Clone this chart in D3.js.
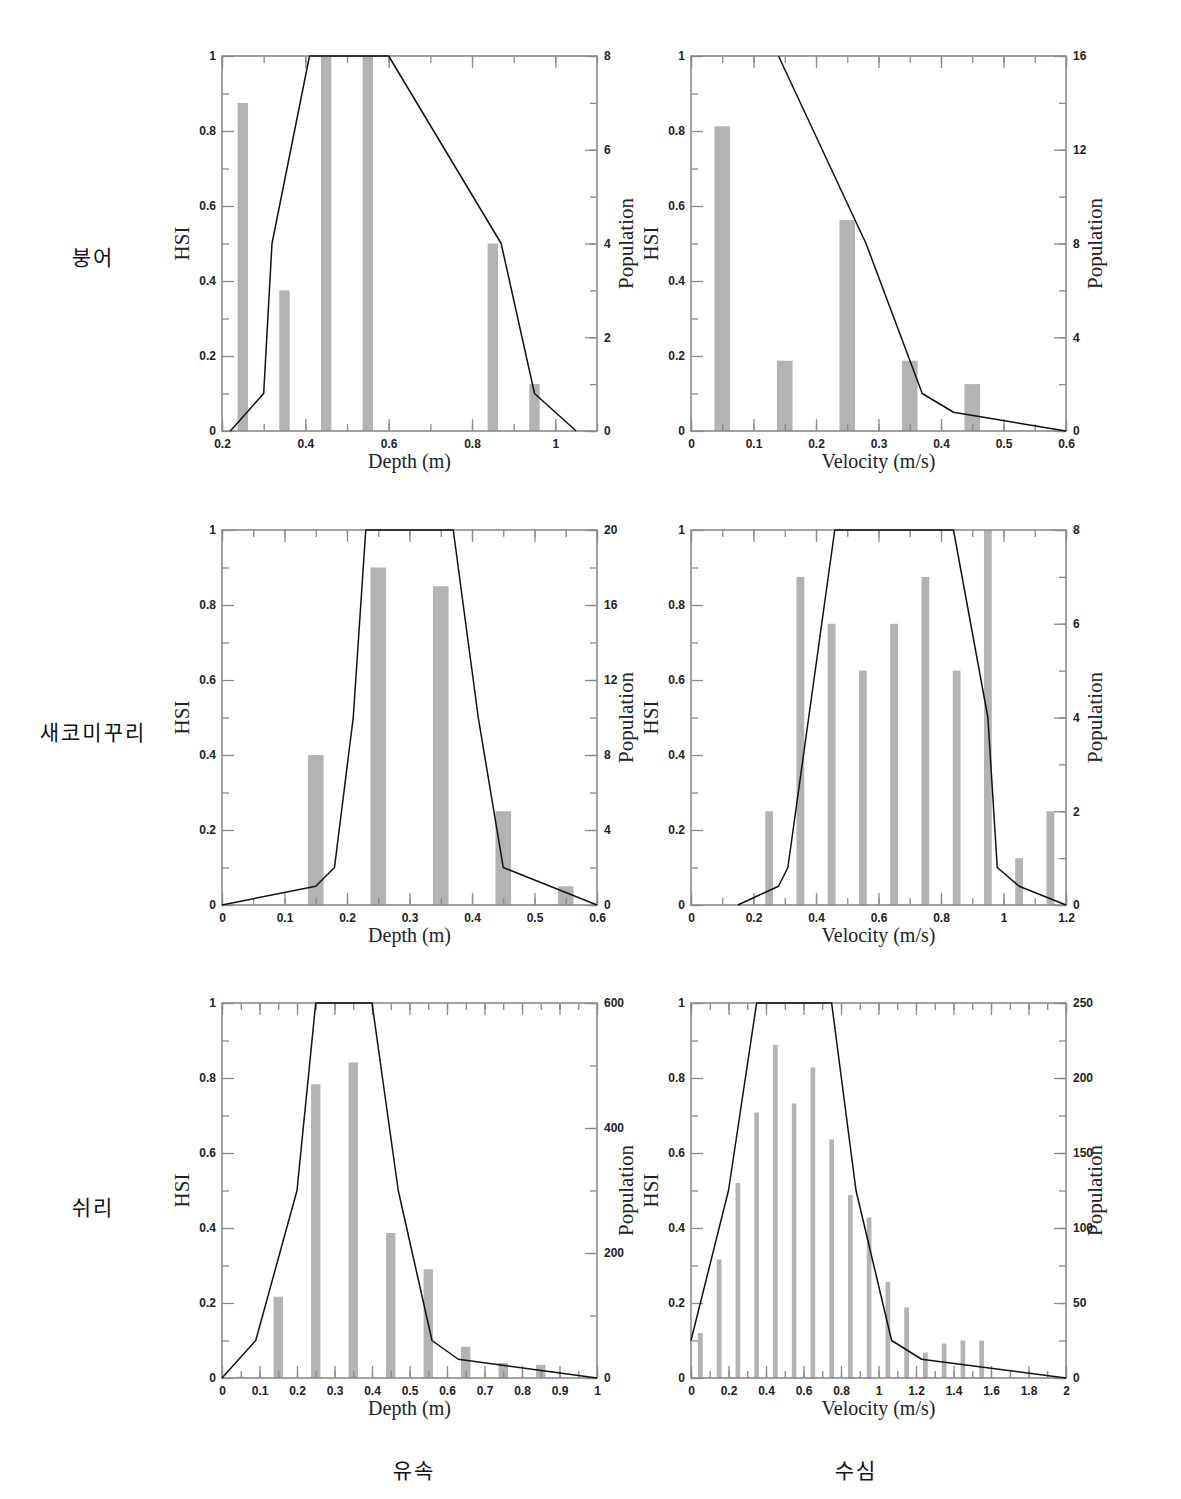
<!DOCTYPE html>
<html><head><meta charset="utf-8">
<script src="https://cdn.jsdelivr.net/npm/d3@7"></script>
<style>
body{margin:0;background:#fff;}
svg{display:block;}
</style></head>
<body>
<svg id="chart" width="1181" height="1499"></svg>
<script>
// ---------- data ----------
const rowLabels = ["붕어", "새코미꾸리", "쉬리"];
const colLabels = ["유속", "수심"];
const xTitles = ["Depth (m)", "Velocity (m/s)"];
const hsiTicks = [0, 0.2, 0.4, 0.6, 0.8, 1];
const hsiMinor = [0.1, 0.3, 0.5, 0.7, 0.9];

// 붕어 - depth
const p1BarX = [0.25, 0.35, 0.45, 0.55, 0.85, 0.95];
const p1BarPop = [7, 3, 8, 8, 4, 1];
const p1LineX = [0.22, 0.3, 0.32, 0.41, 0.6, 0.87, 0.95, 1.05];
const p1LineHSI = [0, 0.1, 0.5, 1, 1, 0.5, 0.1, 0];
const p1XTicks = [0.2, 0.4, 0.6, 0.8, 1];
const p1PopTicks = [0, 2, 4, 6, 8];

// 붕어 - velocity
const p2BarX = [0.05, 0.15, 0.25, 0.35, 0.45];
const p2BarPop = [13, 3, 9, 3, 2];
const p2LineX = [0.14, 0.28, 0.37, 0.42, 0.6];
const p2LineHSI = [1, 0.5, 0.1, 0.05, 0];
const p2XTicks = [0, 0.1, 0.2, 0.3, 0.4, 0.5, 0.6];
const p2PopTicks = [0, 4, 8, 12, 16];

// 새코미꾸리 - depth
const p3BarX = [0.15, 0.25, 0.35, 0.45, 0.55];
const p3BarPop = [8, 18, 17, 5, 1];
const p3LineX = [0, 0.15, 0.18, 0.21, 0.23, 0.37, 0.41, 0.45, 0.6];
const p3LineHSI = [0, 0.05, 0.1, 0.5, 1, 1, 0.5, 0.1, 0];
const p3XTicks = [0, 0.1, 0.2, 0.3, 0.4, 0.5, 0.6];
const p3PopTicks = [0, 4, 8, 12, 16, 20];

// 새코미꾸리 - velocity
const p4BarX = [0.25, 0.35, 0.45, 0.55, 0.65, 0.75, 0.85, 0.95, 1.05, 1.15];
const p4BarPop = [2, 7, 6, 5, 6, 7, 5, 8, 1, 2];
const p4LineX = [0.15, 0.28, 0.31, 0.46, 0.84, 0.95, 0.98, 1.05, 1.2];
const p4LineHSI = [0, 0.05, 0.1, 1, 1, 0.5, 0.1, 0.05, 0];
const p4XTicks = [0, 0.2, 0.4, 0.6, 0.8, 1, 1.2];
const p4PopTicks = [0, 2, 4, 6, 8];

// 쉬리 - depth
const p5BarX = [0.05, 0.15, 0.25, 0.35, 0.45, 0.55, 0.65, 0.75, 0.85];
const p5BarPop = [2, 130, 470, 505, 232, 174, 50, 24, 21];
const p5LineX = [0, 0.09, 0.2, 0.25, 0.4, 0.47, 0.56, 0.63, 1];
const p5LineHSI = [0, 0.1, 0.5, 1, 1, 0.5, 0.1, 0.05, 0];
const p5XTicks = [0, 0.1, 0.2, 0.3, 0.4, 0.5, 0.6, 0.7, 0.8, 0.9, 1];
const p5PopTicks = [0, 200, 400, 600];

// 쉬리 - velocity
const p6BarX = [0.05, 0.15, 0.25, 0.35, 0.45, 0.55, 0.65, 0.75, 0.85, 0.95, 1.05, 1.15, 1.25, 1.35, 1.45, 1.55];
const p6BarPop = [30, 79, 130, 177, 222, 183, 207, 159, 122, 107, 64, 47, 17, 23, 25, 25];
const p6LineX = [0, 0.2, 0.35, 0.75, 0.88, 1.07, 1.23, 2];
const p6LineHSI = [0.1, 0.5, 1, 1, 0.5, 0.1, 0.05, 0];
const p6XTicks = [0, 0.2, 0.4, 0.6, 0.8, 1, 1.2, 1.4, 1.6, 1.8, 2];
const p6PopTicks = [0, 50, 100, 150, 200, 250];

// ---------- layout ----------
const colLeft = [222, 691];
const rowTop = [56, 530, 1003];
const plotW = 375, plotH = 375;
const barWidth = 0.025;   // in data units (x)

const panels = [
  {row:0, col:0, xDomain:[0.2,1.1], xTicks:p1XTicks, xMinorStep:0.1, pop:p1PopTicks, barX:p1BarX, barV:p1BarPop, lx:p1LineX, ly:p1LineHSI},
  {row:0, col:1, xDomain:[0,0.6],  xTicks:p2XTicks, xMinorStep:0.05, pop:p2PopTicks, barX:p2BarX, barV:p2BarPop, lx:p2LineX, ly:p2LineHSI},
  {row:1, col:0, xDomain:[0,0.6],  xTicks:p3XTicks, xMinorStep:0.05, pop:p3PopTicks, barX:p3BarX, barV:p3BarPop, lx:p3LineX, ly:p3LineHSI},
  {row:1, col:1, xDomain:[0,1.2],  xTicks:p4XTicks, xMinorStep:0.1, pop:p4PopTicks, barX:p4BarX, barV:p4BarPop, lx:p4LineX, ly:p4LineHSI},
  {row:2, col:0, xDomain:[0,1],    xTicks:p5XTicks, xMinorStep:0.05, pop:p5PopTicks, barX:p5BarX, barV:p5BarPop, lx:p5LineX, ly:p5LineHSI},
  {row:2, col:1, xDomain:[0,2],    xTicks:p6XTicks, xMinorStep:0.1, pop:p6PopTicks, barX:p6BarX, barV:p6BarPop, lx:p6LineX, ly:p6LineHSI}
];

const svg = d3.select("#chart");
const fmt = d => String(+(+d).toFixed(3));
const frameColor = "#8a8a8a";
const tickColor = "#8a8a8a";
const tickFont = "'Liberation Sans', Arial, sans-serif";
const serif = "'Liberation Serif', 'Times New Roman', serif";

function minorRange(domain, step){
  const out = [];
  const n = Math.round((domain[1]-domain[0])/step);
  for (let i=0;i<=n;i++) out.push(+(domain[0]+i*step).toFixed(4));
  return out;
}

function styleAxis(g){
  g.select(".domain").remove();
  g.selectAll(".tick line").attr("stroke", tickColor).attr("stroke-width", 1.3);
  g.selectAll(".tick text").attr("fill", "#222").style("font-family", tickFont)
    .style("font-size", "12px").style("font-weight", "bold");
}

panels.forEach(p => {
  const left = colLeft[p.col], top = rowTop[p.row];
  const g = svg.append("g").attr("transform", `translate(${left},${top})`);
  const x = d3.scaleLinear().domain(p.xDomain).range([0, plotW]);
  const yH = d3.scaleLinear().domain([0,1]).range([plotH, 0]);
  const popMax = p.pop[p.pop.length-1];
  const yP = d3.scaleLinear().domain([0, popMax]).range([plotH, 0]);
  const popStep = p.pop[1]-p.pop[0];

  // bars
  const bars = p.barX.map((c,i)=>({c, v:p.barV[i]}));
  g.append("g").selectAll("rect").data(bars).join("rect")
    .attr("x", d => x(d.c - barWidth/2))
    .attr("width", d => x(d.c + barWidth/2) - x(d.c - barWidth/2))
    .attr("y", d => yP(d.v))
    .attr("height", d => plotH - yP(d.v))
    .attr("fill", "#b3b3b3");

  const xMinor = minorRange(p.xDomain, p.xMinorStep);
  const popMinor = minorRange([0, popMax], popStep/2);
  const tickLong = 12, tickShort = 7;

  g.append("g").attr("transform", `translate(0,${plotH})`)
    .call(d3.axisBottom(x).tickValues(xMinor).tickSize(-tickShort).tickFormat(""))
    .call(styleAxis);
  g.append("g").attr("transform", `translate(0,${plotH})`)
    .call(d3.axisBottom(x).tickValues(p.xTicks).tickSize(-tickLong).tickPadding(8).tickFormat(fmt))
    .call(styleAxis);
  g.append("g")
    .call(d3.axisTop(x).tickValues(xMinor).tickSize(-tickShort).tickFormat(""))
    .call(styleAxis);
  g.append("g")
    .call(d3.axisTop(x).tickValues(p.xTicks).tickSize(-tickLong).tickFormat(""))
    .call(styleAxis);

  g.append("g")
    .call(d3.axisLeft(yH).tickValues(hsiMinor).tickSize(-tickShort).tickFormat(""))
    .call(styleAxis);
  g.append("g")
    .call(d3.axisLeft(yH).tickValues(hsiTicks).tickSize(-tickLong).tickPadding(6).tickFormat(fmt))
    .call(styleAxis);

  g.append("g").attr("transform", `translate(${plotW},0)`)
    .call(d3.axisRight(yP).tickValues(popMinor).tickSize(-tickShort).tickFormat(""))
    .call(styleAxis);
  g.append("g").attr("transform", `translate(${plotW},0)`)
    .call(d3.axisRight(yP).tickValues(p.pop).tickSize(-tickLong).tickPadding(7).tickFormat(fmt))
    .call(styleAxis);

  // frame
  g.append("rect").attr("x",0).attr("y",0).attr("width",plotW).attr("height",plotH)
    .attr("fill","none").attr("stroke",frameColor).attr("stroke-width",1.6);

  // HSI line
  const pts = p.lx.map((v,i)=>[v, p.ly[i]]);
  g.append("path").datum(pts)
    .attr("d", d3.line().x(d=>x(d[0])).y(d=>yH(d[1])))
    .attr("fill","none").attr("stroke","#111").attr("stroke-width",1.5)
    .attr("stroke-linejoin","round");

  // axis titles
  g.append("text").attr("x", plotW/2).attr("y", plotH+37)
    .attr("text-anchor","middle").style("font-family", serif).style("font-size","20px")
    .attr("fill","#222").text(xTitles[p.col]);
  g.append("text").attr("transform", `translate(-40,${plotH/2}) rotate(-90)`)
    .attr("text-anchor","middle").attr("dy","0.35em")
    .style("font-family", serif).style("font-size","21px").attr("fill","#222").text("HSI");
  g.append("text").attr("transform", `translate(${plotW+29},${plotH/2}) rotate(-90)`)
    .attr("text-anchor","middle").attr("dy","0.35em")
    .style("font-family", serif).style("font-size","21px").attr("fill","#222").text("Population");
});

// row labels
const rowCenters = [258, 733, 1208];
svg.append("g").selectAll("text").data(rowLabels).join("text")
  .attr("x", 93).attr("y", (d,i)=>rowCenters[i]).attr("dy","0.35em")
  .attr("text-anchor","middle")
  .style("font-family","'Noto Sans CJK KR', sans-serif").style("font-size","21px")
  .style("letter-spacing","2px")
  .attr("fill","#111").text(d=>d);

// column labels
const colCenters = [414, 856];
svg.append("g").selectAll("text").data(colLabels).join("text")
  .attr("x", (d,i)=>colCenters[i]).attr("y", 1471).attr("dy","0.35em")
  .attr("text-anchor","middle")
  .style("font-family","'Noto Sans CJK KR', sans-serif").style("font-size","21px")
  .style("letter-spacing","2px")
  .attr("fill","#111").text(d=>d);
</script>
</body></html>
